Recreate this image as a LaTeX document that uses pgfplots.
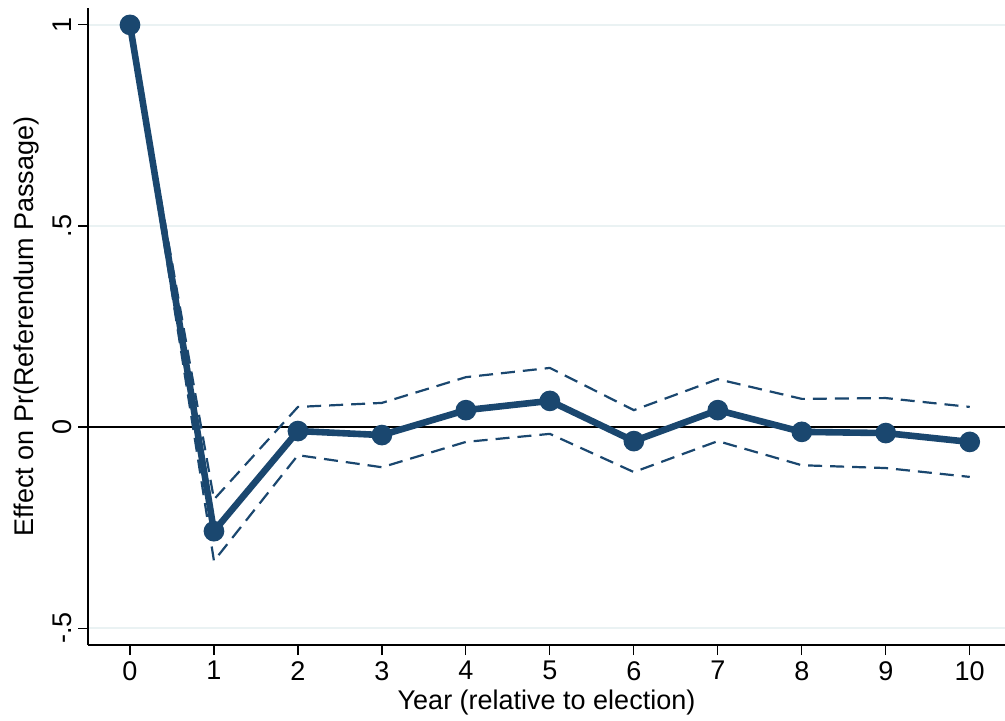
\documentclass[border=0pt]{standalone}
\usepackage{pgfplots}
\pgfplotsset{compat=1.18}
\usepackage{fontspec}
\setmainfont{Liberation Sans}
\definecolor{stnavy}{HTML}{1A476F}
\definecolor{stgrid}{HTML}{EAF2F3}
\pgfplotstableread{
x est lo hi
0 1.000 1.000 1.000
1 -0.259 -0.333 -0.180
2 -0.010 -0.070 0.050
3 -0.020 -0.100 0.060
4 0.042 -0.037 0.124
5 0.065 -0.017 0.147
6 -0.035 -0.112 0.042
7 0.042 -0.035 0.119
8 -0.012 -0.095 0.070
9 -0.015 -0.102 0.072
10 -0.037 -0.124 0.050
}\datatable
\begin{document}
\begin{tikzpicture}
\begin{axis}[
  scale only axis,
  width=458.5pt, height=318.5pt,
  xmin=-0.5, xmax=10.42,
  ymin=-0.542, ymax=1.042,
  axis x line*=bottom, axis y line*=left,
  axis line style={black, line width=0.6pt, -},
  xtick={0,1,...,10},
  ytick={-0.5,0,0.5,1},
  yticklabels={-.5,0,.5,1},
  tick align=outside,
  major tick length=5pt,
  tick style={black, line width=0.6pt},
  ymajorgrids,
  grid style={stgrid, line width=1pt},
  font=\fontsize{13.5}{16}\selectfont,
  /pgf/number format/assume math mode=true,
  yticklabel style={rotate=90, anchor=south, inner sep=3pt},
  xticklabel style={inner sep=3pt},
  xlabel={Year (relative to election)},
  ylabel={Effect on Pr(Referendum Passage)},
  xlabel style={yshift=2pt},
  ylabel style={yshift=0pt},
  clip=false,
  after end axis/.code={
    \coordinate (SW) at (rel axis cs:0,0);
    \coordinate (NE) at (rel axis cs:1,1);
  },
]
\addplot[black, line width=0.8pt, forget plot] coordinates {(-0.5,0) (10.42,0)};
\addplot[stnavy, line width=1.1pt, dash pattern=on 7pt off 4pt] table[x=x, y=hi] {\datatable};
\addplot[stnavy, line width=1.1pt, dash pattern=on 7pt off 4pt] table[x=x, y=lo] {\datatable};
\addplot[stnavy, line width=3.3pt, mark=*, mark size=3.5pt, mark options={solid, fill=stnavy, draw=none}] table[x=x, y=est] {\datatable};
\end{axis}
\pgfresetboundingbox
\useasboundingbox ([shift={(-44pt,-38pt)}]SW) rectangle ([shift={(0pt,4pt)}]NE);
\end{tikzpicture}
\end{document}
